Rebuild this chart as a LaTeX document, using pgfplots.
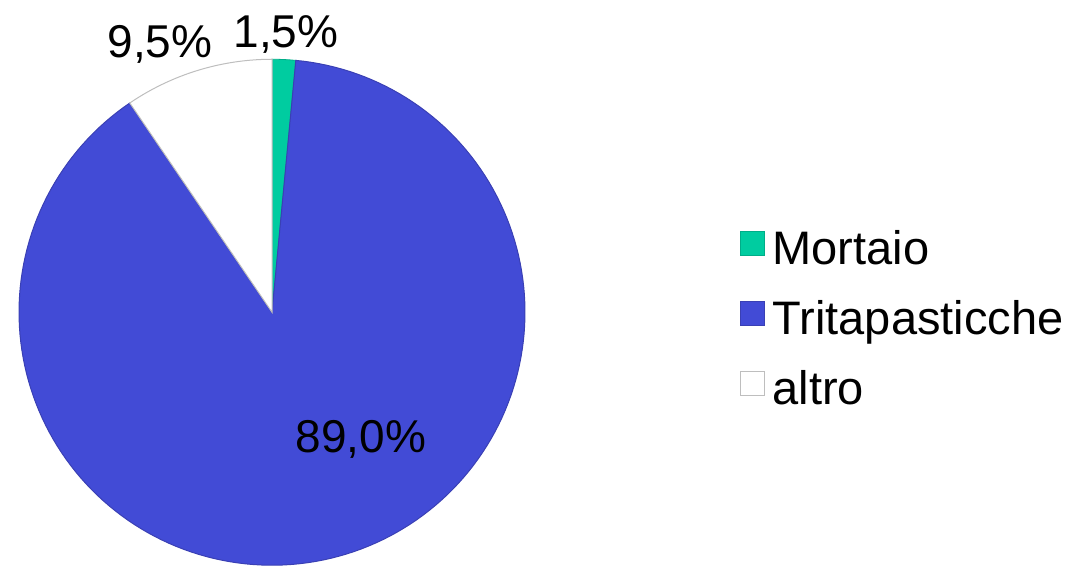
\documentclass[border=0pt]{standalone}
\usepackage{pgfplots}
\pgfplotsset{compat=1.18}
\usepackage{fontspec}
\setmainfont{Liberation Sans}

\definecolor{mortaio}{RGB}{0,204,160}
\definecolor{trita}{RGB}{66,75,214}
\definecolor{tritaedge}{RGB}{58,64,180}
\definecolor{altroedge}{RGB}{190,190,190}

\begin{document}
\begin{tikzpicture}
\fontsize{46}{55}\selectfont
    \begin{axis}[
        x=1pt, y=1pt,
        xmin=-272, xmax=804,
        ymin=-252, ymax=310,
        hide axis,
        scale only axis,
        clip=false,
        legend style={
            at={(axis cs:468,-9)},
            anchor=west,
            draw=none, fill=none,
            font=\fontsize{47}{56}\selectfont,
            row sep=25pt,
            inner sep=0pt,
            cells={anchor=west},
        },
        legend image code/.code={
            \draw[#1, line width=0.8pt] (0pt,-4pt) rectangle (24pt,20pt);
            \path[draw=none, fill=none] (30pt,0pt) circle (0pt);
        },
    ]

    % shares in percent, clockwise from 12 o'clock; 3.6 degrees per percent
    \addplot[fill=mortaio, draw=mortaio!85!black, line width=0.8pt, domain={90-3.6*1.5}:90, samples=8, variable=\t]
        ({253*cos(t)}, {253*sin(t)}) -- (axis cs:0,0) -- cycle;
    \addlegendentry{Mortaio}

    \addplot[fill=trita, draw=tritaedge, line width=1pt, domain={90-3.6*(1.5+89.0)}:{90-3.6*1.5}, samples=180, variable=\t]
        ({253*cos(t)}, {253*sin(t)}) -- (axis cs:0,0) -- cycle;
    \addlegendentry{Tritapasticche}

    \addplot[fill=white, draw=altroedge, line width=1pt, domain={90-3.6*(1.5+89.0+9.5)}:{90-3.6*(1.5+89.0)}, samples=30, variable=\t]
        ({253*cos(t)}, {253*sin(t)}) -- (axis cs:0,0) -- cycle;
    \addlegendentry{altro}

    \node[anchor=base] at (axis cs:-112,255) {9,5\%};
    \node[anchor=base] at (axis cs:14,265) {1,5\%};
    \node[anchor=base] at (axis cs:89,-140) {89,0\%};
    \end{axis}
    \useasboundingbox (current axis.south west) rectangle (current axis.north east);
\end{tikzpicture}
\end{document}
